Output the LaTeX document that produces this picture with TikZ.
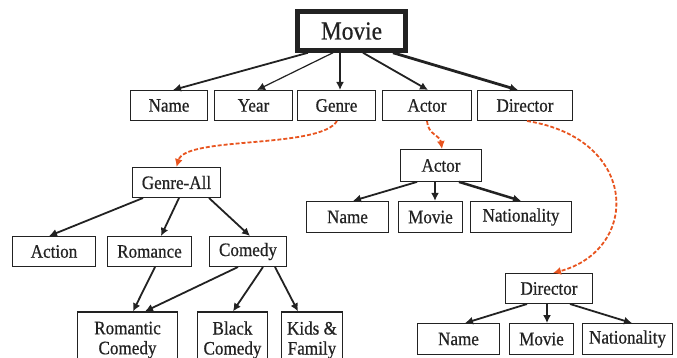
\documentclass[tikz,border=0pt]{standalone}
\usepackage{fontspec}
\setmainfont{Liberation Serif}[FakeStretch=0.9,FakeBold=0.6]
\usetikzlibrary{positioning,arrows.meta}

\definecolor{ink}{HTML}{222222}
\definecolor{hop}{HTML}{E8541F}

\begin{document}
\begin{tikzpicture}[x=1pt,y=-1pt,
	box/.style={rectangle,
		draw=ink,
		text=ink,
		line width=1.3pt,
		inner sep=0pt,
		minimum height=29.7pt,
		font=\fontsize{19}{20}\selectfont},
	link/.style={-{Latex[length=8pt,width=8pt]}, draw=ink, line width=1.8pt},
	hoplink/.style={-{Latex[length=8pt,width=8pt]}, draw=hop, line width=1.8pt,
		dash pattern=on 4pt off 2pt}]

\useasboundingbox (0,0) rectangle (677,358);

% Root entity
\node[box,
	line width=4.5pt,
	minimum width=108pt,
	minimum height=39pt,
	font=\fontsize{26}{28}\selectfont] (movie) at (351.5,31) {Movie};

%%%%%%%%%%%%%%%%%%%
% Movie attributes

\node[box, minimum width=76.7pt] (name) at (169,105.5) {Name};
\node[box, right=6pt of name, minimum width=77.7pt] (year) {Year};
\node[box, right=4pt of year, minimum width=77.7pt] (genre) {Genre};
\node[box, right=6pt of genre, minimum width=88.7pt] (actor) {Actor};
\node[box, right=5pt of actor, minimum width=94.7pt] (director) {Director};

\draw
    ([xshift=-43.5pt]movie.south) edge[link] ([xshift=4pt]name.north)
    ([xshift=-18.5pt]movie.south) edge[link, line width=1.2pt] ([xshift=3.5pt]year.north)
    ([xshift=-11.5pt]movie.south) edge[link] ([xshift=3.5pt]genre.north)
    ([xshift=11.5pt]movie.south) edge[link] ([xshift=1pt]actor.north)
    ([xshift=41.5pt]movie.south) edge[link, line width=2.8pt] ([xshift=-7pt]director.north);

%%%%%%%%%%%%%%%%%%%
% Genre hierarchy

\node[box, minimum width=87.7pt] (genre_all) at (176.5,182.5) {Genre-All};

\node[box, minimum width=82.7pt] (action) at (54,251.5) {Action};
\node[box, right=11pt of action, minimum width=83.7pt] (romance) {Romance};
\node[box, right=17pt of romance, minimum width=76.7pt] (comedy) {Comedy};

\node[box,
	align=center,
	minimum width=99.7pt,
	minimum height=56pt] (romantic_comedy) at (127.5,340) {Romantic\\Comedy};
\node[box,
	align=center,
	right=19pt of romantic_comedy,
	minimum width=69.7pt,
	minimum height=56pt] (black_comedy) {Black\\Comedy};
\node[box,
	align=center,
	right=13pt of black_comedy,
	minimum width=60.7pt,
	minimum height=56pt] (kids_family) {Kids \&\\Family};

\draw[hoplink]
    ([xshift=0.5pt]genre.south) .. controls +(-17,28) and +(9,-31) .. (genre_all.north);

\draw
    ([xshift=-33.5pt]genre_all.south) edge[link] ([xshift=-5pt]action.north)
    ([xshift=2.5pt]genre_all.south) edge[link] ([xshift=11.5pt]romance.north)
    ([xshift=32.5pt]genre_all.south) edge[link] ([xshift=2pt]comedy.north)
    ([xshift=5.5pt]romance.south) edge[link] ([xshift=5.5pt]romantic_comedy.north)
    ([xshift=-10pt]comedy.south) edge[link] ([xshift=17.5pt]romantic_comedy.north)
    ([xshift=15pt]comedy.south) edge[link] ([xshift=0.5pt]black_comedy.north)
    ([xshift=27pt]comedy.south) edge[link] ([xshift=-14pt]kids_family.north);

%%%%%%%%%%%%%%%%%%%
% Actor entity

\node[box, minimum width=80.7pt, minimum height=31.5pt] (actor_ent) at (441,165.5) {Actor};

\node[box, minimum width=81.7pt, minimum height=31pt] (actor_name) at (347.5,217) {Name};
\node[box, right=9pt of actor_name, minimum width=63.7pt, minimum height=31pt] (actor_movie) {Movie};
\node[box, right=7pt of actor_movie, minimum width=100.7pt, minimum height=31pt] (actor_nat) {Nationality};

\draw[hoplink]
    (actor.south) .. controls +(1,14) and +(-2,-14) .. ([xshift=1pt]actor_ent.north);

\draw
    ([xshift=-24pt]actor_ent.south) edge[link] ([xshift=5.5pt]actor_name.north)
    ([xshift=-6pt]actor_ent.south) edge[link] ([xshift=4.5pt]actor_movie.north)
    ([xshift=18pt]actor_ent.south) edge[link, line width=2.5pt] (actor_nat.north);

%%%%%%%%%%%%%%%%%%%
% Director entity

\node[box, minimum width=86.7pt] (director_ent) at (549,288.5) {Director};

\node[box, minimum width=81.7pt, minimum height=30.5pt] (director_name) at (458.5,339) {Name};
\node[box, right=9pt of director_name, minimum width=63.7pt, minimum height=30.5pt] (director_movie) {Movie};
\node[box, right=8pt of director_movie, minimum width=89.7pt, minimum height=30.5pt] (director_nat) {Nationality};

\draw[hoplink]
    ([xshift=2pt]director.south) .. controls +(113,18) and +(87,-23) .. ([xshift=4pt]director_ent.north);

\draw
    ([xshift=-22pt]director_ent.south) edge[link] ([xshift=6.5pt]director_name.north)
    ([xshift=-2pt]director_ent.south) edge[link] ([xshift=5.5pt]director_movie.north)
    ([xshift=21pt]director_ent.south) edge[link] ([xshift=4.5pt]director_nat.north);

\end{tikzpicture}
\end{document}
